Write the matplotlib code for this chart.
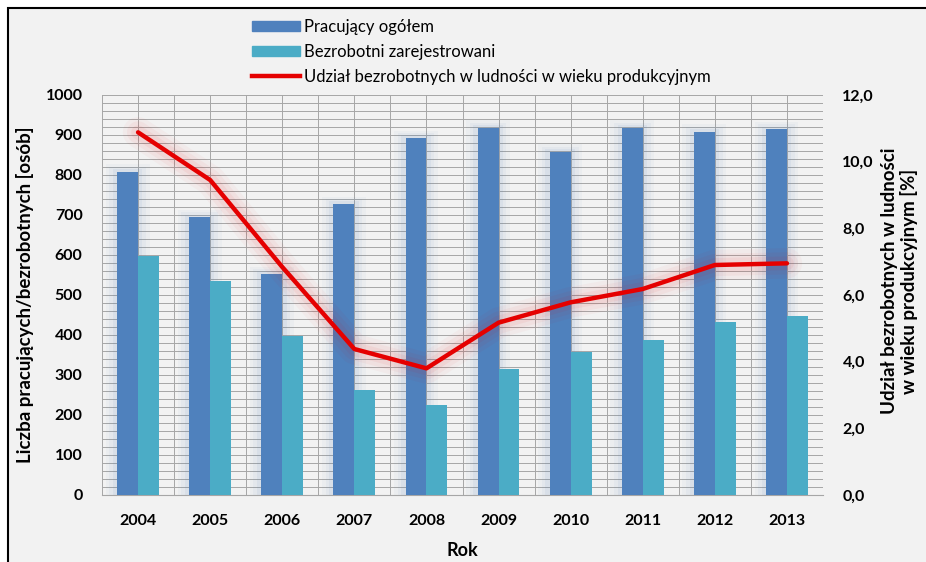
import numpy as np
import matplotlib.pyplot as plt
from matplotlib.patches import Rectangle
from matplotlib.lines import Line2D
from matplotlib.ticker import FuncFormatter, MultipleLocator

# dane
lata = ["2004", "2005", "2006", "2007", "2008", "2009", "2010", "2011", "2012", "2013"]
pracujacy = [808, 694, 552, 727, 892, 918, 858, 918, 908, 914]
bezrobotni = [597, 535, 397, 262, 224, 315, 357, 388, 432, 448]
udzial = [10.88, 9.45, 6.84, 4.38, 3.80, 5.17, 5.78, 6.18, 6.90, 6.95]

C_PRAC = "#4F81BD"
C_BEZR = "#4BACC6"
C_LINE = "#E50000"
BG = "#F2F2F2"

plt.rcParams["font.family"] = ["Lato", "DejaVu Sans"]

fig = plt.figure(figsize=(9.26, 5.62), dpi=100, facecolor="white")
fig.patches.append(Rectangle((8 / 926, -0.1), 1.1, 1 - 8 / 562 + 0.1,
                             transform=fig.transFigure, facecolor=BG,
                             edgecolor="black", linewidth=1.5, zorder=-10))

ax = fig.add_axes([102 / 926, 1 - 495 / 562, 721 / 926, 400 / 562])
ax.set_facecolor(BG)
x = np.arange(len(lata))
w = 0.29

# poświata wokół słupków
for k, a in [(0.16, 0.04), (0.11, 0.05), (0.06, 0.07)]:
    ax.bar(x - w / 2, np.array(pracujacy) + k * 120, w + 2 * k, color=C_PRAC,
           alpha=a, linewidth=0, zorder=1)

ax.bar(x - w / 2, pracujacy, w, color=C_PRAC, zorder=3, label="Pracujący ogółem")
ax.bar(x + w / 2, bezrobotni, w, color=C_BEZR, zorder=3, label="Bezrobotni zarejestrowani")

ax.set_xlim(-0.5, len(lata) - 0.5)
ax.set_ylim(0, 1000)
ax.set_xticks(x)
ax.set_xticklabels(lata, fontweight="bold", fontsize=11.5)
ax.yaxis.set_major_locator(MultipleLocator(100))
ax.yaxis.set_minor_locator(MultipleLocator(20))
ax.set_xticks(np.arange(-0.5, len(lata), 0.5), minor=True)
ax.grid(which="both", color="#A6A6A6", linewidth=0.7, zorder=0)
ax.set_axisbelow(True)
ax.tick_params(axis="both", which="both", length=0)
ax.tick_params(axis="y", labelsize=11.5, pad=14)
ax.tick_params(axis="x", pad=14)
for t in ax.get_yticklabels():
    t.set_fontweight("bold")
for s in ["top", "left", "right"]:
    ax.spines[s].set_visible(False)
ax.spines["bottom"].set_color("#A6A6A6")

ax.set_ylabel("Liczba pracujących/bezrobotnych [osób]", fontweight="bold",
              fontsize=13.5, labelpad=8)
ax.set_xlabel("Rok", fontweight="bold", fontsize=13, labelpad=10)

ax2 = ax.twinx()
ax2.set_ylim(0, 12)
ax2.yaxis.set_major_locator(MultipleLocator(2))
ax2.yaxis.set_major_formatter(FuncFormatter(lambda v, p: f"{v:.1f}".replace(".", ",")))
ax2.tick_params(axis="y", length=0, labelsize=11.5, pad=14)
for t in ax2.get_yticklabels():
    t.set_fontweight("bold")
for s in ax2.spines.values():
    s.set_visible(False)

for lw, a in [(22, 0.03), (16, 0.04), (10, 0.05)]:
    ax2.plot(x, udzial, color=C_LINE, linewidth=lw, alpha=a,
             solid_capstyle="round", solid_joinstyle="round", zorder=2)
ax2.plot(x, udzial, color=C_LINE, linewidth=3.2, solid_joinstyle="round",
         solid_capstyle="round", zorder=4)
ax2.set_ylabel("Udział bezrobotnych w ludności\nw wieku produkcyjnym [%]",
               fontweight="bold", fontsize=13.5, linespacing=1.15)
ax2.yaxis.set_label_coords(1.08, 0.535)

handles = [
    Rectangle((0, 0), 1, 1, color=C_PRAC),
    Rectangle((0, 0), 1, 1, color=C_BEZR),
    Line2D([0], [0], color=C_LINE, linewidth=3.2),
]
labels = ["Pracujący ogółem", "Bezrobotni zarejestrowani",
          "Udział bezrobotnych w ludności w wieku produkcyjnym"]
fig.legend(handles, labels, loc="upper left", bbox_to_anchor=(245 / 926, 1 - 12 / 562),
           frameon=False, fontsize=12, handlelength=2.9, handleheight=0.6,
           handletextpad=0.25, labelspacing=0.55, borderaxespad=0)

fig.savefig("out.png", dpi=100, facecolor=fig.get_facecolor())
